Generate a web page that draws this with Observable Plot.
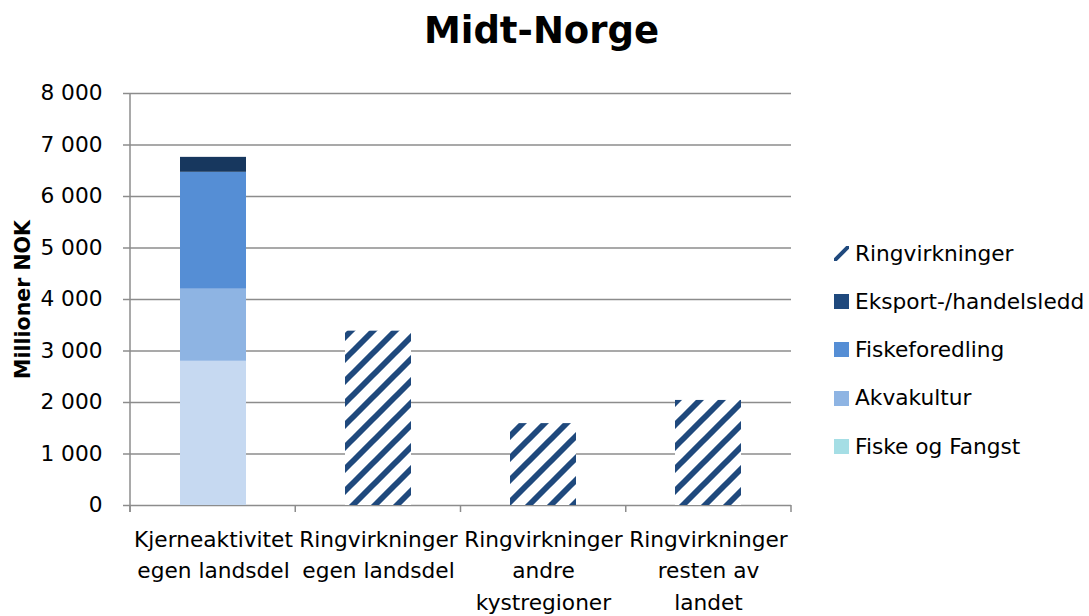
<!DOCTYPE html>
<html>
<head>
<meta charset="utf-8">
<script src="https://cdn.jsdelivr.net/npm/d3@7"></script>
<script src="https://cdn.jsdelivr.net/npm/@observablehq/plot@0.6"></script>
<style>
  body { margin: 0; background: #fff; }
  #wrap { position: relative; width: 1089px; height: 616px; font-family: "DejaVu Sans", sans-serif; color: #000; overflow: hidden; }
  #wrap > svg { position: absolute; left: 0; top: 0; }
  #title { position: absolute; left: -3px; width: 1089px; top: 12px; text-align: center; font-weight: bold; font-size: 37px; line-height: 37px; }
  .leg { position: absolute; left: 834px; height: 20px; display: flex; align-items: center; font-size: 21.7px; line-height: 20px; white-space: nowrap; }
  .sw { width: 15px; height: 15px; margin-right: 6px; flex: none; }
</style>
</head>
<body>
<div id="wrap">
  <div id="title">Midt-Norge</div>
  <div id="legend"></div>
</div>
<script>
// ---- data ----
const categories = [
  "Kjerneaktivitet egen landsdel",
  "Ringvirkninger egen landsdel",
  "Ringvirkninger andre kystregioner",
  "Ringvirkninger resten av landet"
];
const tickLabels = [
  "Kjerneaktivitet\negen landsdel",
  "Ringvirkninger\negen landsdel",
  "Ringvirkninger\nandre\nkystregioner",
  "Ringvirkninger\nresten av\nlandet"
];
const coreSeries = ["Fiske og Fangst", "Akvakultur", "Fiskeforedling", "Eksport-/handelsledd"];
const coreValues = [2800, 1400, 2270, 290];
const ringSeries = "Ringvirkninger";
const ringValues = [3385, 1590, 2040];
const legendOrder = ["Ringvirkninger", "Eksport-/handelsledd", "Fiskeforedling", "Akvakultur", "Fiske og Fangst"];
const yTicks = [0, 1000, 2000, 3000, 4000, 5000, 6000, 7000, 8000];

// ---- styles ----
const barColors = {
  "Fiske og Fangst": "#C6D9F1",
  "Akvakultur": "#8EB4E3",
  "Fiskeforedling": "#558ED5",
  "Eksport-/handelsledd": "#17375E",
  "Ringvirkninger": "url(#hatch)"
};
const legendColors = {
  "Fiske og Fangst": "#A5DEE5",
  "Akvakultur": "#8EB4E3",
  "Fiskeforedling": "#558ED5",
  "Eksport-/handelsledd": "#1F497D"
};

const rows = [];
coreSeries.forEach((s, i) => rows.push({category: categories[0], series: s, value: coreValues[i]}));
ringValues.forEach((v, i) => rows.push({category: categories[i + 1], series: ringSeries, value: v}));

const seriesDomain = [...coreSeries, ringSeries];
const fmt = d => d3.format(",")(d).replace(/,/g, " ");

const plot = Plot.plot({
  width: 1089,
  height: 616,
  marginLeft: 130,
  marginRight: 298,
  marginTop: 93,
  marginBottom: 111,
  style: {fontFamily: "DejaVu Sans, sans-serif", fontSize: "21.7px", color: "black", background: "transparent"},
  x: {domain: categories, paddingInner: 0.6, paddingOuter: 0.3, axis: null},
  y: {domain: [0, 8000], axis: null},
  color: {domain: seriesDomain, range: seriesDomain.map(s => barColors[s])},
  marks: [
    Plot.gridY(yTicks, {stroke: "#8c8c8c", strokeOpacity: 1, strokeWidth: 1.5}),
    Plot.barY(rows, {x: "category", y: "value", fill: "series"}),
    Plot.axisY(yTicks, {tickSize: 7, tickPadding: 21, tickFormat: fmt, stroke: "#8c8c8c", strokeWidth: 1.5, fill: "black", fontSize: 21.7, label: null}),
    Plot.text(categories, {x: d => d, text: (d, i) => tickLabels[i], frameAnchor: "bottom", lineAnchor: "top", dy: 19, fontSize: 21.7, lineHeight: 1.45, fill: "black"}),
    Plot.text(["Millioner NOK"], {frameAnchor: "left", textAnchor: "middle", rotate: -90, dx: -107, fontSize: 20.5, fontWeight: "bold", fill: "black"})
  ]
});

// hatch pattern
const svg = d3.select(plot);
const defs = svg.insert("defs", ":first-child");
const pat = defs.append("pattern").attr("id", "hatch").attr("patternUnits", "userSpaceOnUse")
  .attr("width", 22).attr("height", 22);
pat.append("rect").attr("width", 22).attr("height", 22).attr("fill", "white");
pat.append("path").attr("d", "M-6,6L6,-6M0,22L22,0M16,28L28,16")
  .attr("stroke", "#1F497D").attr("stroke-width", 5.8).attr("fill", "none");

// axis line and category boundary ticks using the plot's scales
const xs = plot.scale("x"), ys = plot.scale("y");
const x0 = xs.range[0], x1 = xs.range[1];
const y0 = ys.apply(0), yTop = ys.apply(8000);
const g = svg.append("g").attr("stroke", "#8c8c8c").attr("stroke-width", 1.5);
g.append("line").attr("x1", x0).attr("x2", x0).attr("y1", yTop).attr("y2", y0 + 7);
const step = (x1 - x0) / categories.length;
for (let i = 0; i <= categories.length; i++) {
  const bx = x0 + i * step;
  g.append("line").attr("x1", bx).attr("x2", bx).attr("y1", y0).attr("y2", y0 + 7);
}

document.getElementById("wrap").appendChild(plot);

// legend
const legendCenters = [253.5, 301.5, 349.5, 398, 446.5];
const legend = document.getElementById("legend");
legendOrder.forEach((s, i) => {
  const row = document.createElement("div");
  row.className = "leg";
  row.style.top = (legendCenters[i] - 10) + "px";
  let sw;
  if (s === ringSeries) {
    sw = `<svg class="sw" width="15" height="15" viewBox="0 0 15 15"><path d="M1,14L14,1" stroke="#1F497D" stroke-width="4" stroke-linecap="round"/></svg>`;
  } else {
    sw = `<span class="sw" style="background:${legendColors[s]}"></span>`;
  }
  row.innerHTML = sw + `<span>${s}</span>`;
  legend.appendChild(row);
});
</script>
</body>
</html>
